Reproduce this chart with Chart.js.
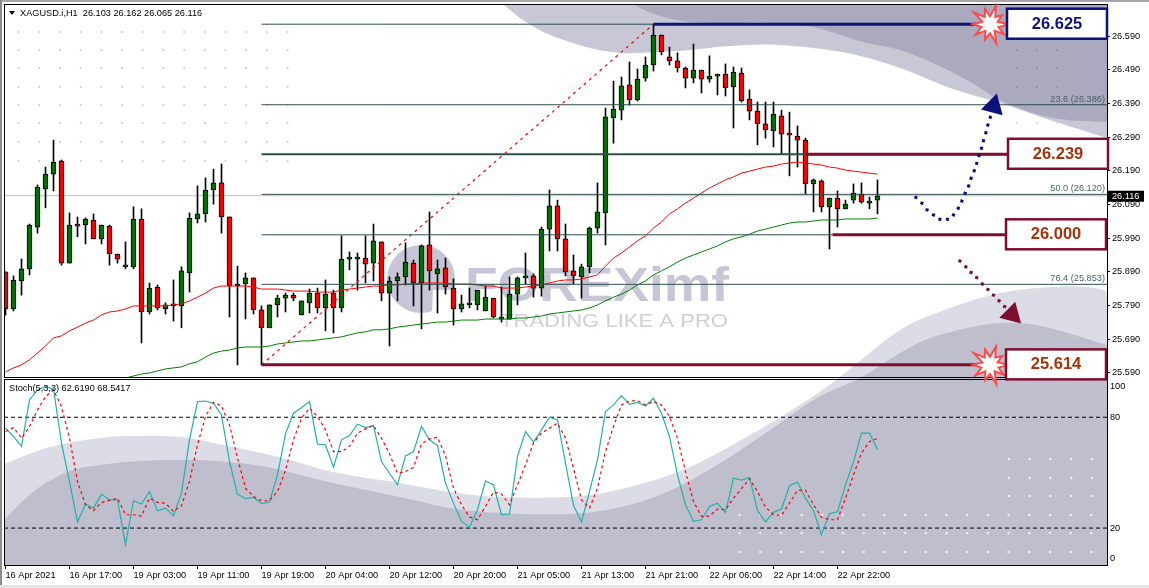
<!DOCTYPE html>
<html>
<head>
<meta charset="utf-8">
<style>
html, body { margin: 0; padding: 0; background: #fff; overflow: hidden; }
#strip { position: absolute; left: 0; top: 0; width: 1149px; height: 2px; background: #a8a8a8; }
#side { position: absolute; left: 0; top: 0; width: 2px; height: 585px; background: #8c8c8c; }
#foot { position: absolute; left: 0; top: 585px; width: 1149px; height: 3px; background: #e4e4e4; }
canvas { position: absolute; left: 0; top: 0; }
</style>
<script src="https://cdn.jsdelivr.net/npm/chart.js@4"></script>
</head>
<body>
<canvas id="chart" width="1149" height="588"></canvas>
<div id="strip"></div><div id="side"></div><div id="foot"></div>
<script>
"use strict";
const timeLabels = ["16 Apr 2021", "16 Apr 17:00", "19 Apr 03:00", "19 Apr 11:00", "19 Apr 19:00", "20 Apr 04:00", "20 Apr 12:00",
    "20 Apr 20:00", "21 Apr 05:00", "21 Apr 13:00", "21 Apr 21:00", "22 Apr 06:00", "22 Apr 14:00", "22 Apr 22:00"];
const timeTickIndex = [0, 8, 16, 24, 32, 40, 48, 56, 64, 72, 80, 88, 96, 104];
const priceTicks = [25.59, 25.69, 25.79, 25.89, 25.99, 26.09, 26.19, 26.29, 26.39, 26.49, 26.59];
const stochTickLabels = ["100", "80", "20", "0"];
const stochTickPos = [96.9, 80, 20, 3.4];

const opens = [25.890, 25.780, 25.863, 25.899, 26.023, 26.136, 26.180, 26.219, 25.916, 26.029,
    26.029, 26.044, 25.988, 26.026, 25.943, 25.905, 25.905, 26.047, 25.771, 25.845,
    25.780, 25.789, 25.789, 25.887, 26.047, 26.062, 26.133, 26.154, 26.053, 25.848,
    25.854, 25.872, 25.777, 25.724, 25.792, 25.812, 25.821, 25.762, 25.798, 25.827,
    25.783, 25.827, 25.783, 25.928, 25.928, 25.931, 25.916, 25.979, 25.827, 25.863,
    25.875, 25.916, 25.857, 25.970, 25.884, 25.902, 25.842, 25.780, 25.792, 25.792,
    25.774, 25.812, 25.750, 25.750, 25.824, 25.872, 25.878, 25.842, 26.017, 26.086,
    25.988, 25.893, 25.875, 25.905, 26.020, 26.065, 26.347, 26.370, 26.445, 26.400,
    26.465, 26.504, 26.593, 26.528, 26.516, 26.495, 26.465, 26.489, 26.462, 26.471,
    26.477, 26.439, 26.480, 26.403, 26.367, 26.329, 26.308, 26.353, 26.299, 26.293,
    26.281, 26.151, 26.160, 26.083, 26.109, 26.077, 26.103, 26.121, 26.094, 26.103];
const highs = [25.890, 25.878, 25.928, 26.032, 26.148, 26.201, 26.281, 26.222, 26.065, 26.053,
    26.050, 26.062, 26.029, 26.029, 25.943, 25.979, 26.083, 26.077, 25.857, 25.851,
    25.798, 25.866, 25.905, 26.065, 26.145, 26.169, 26.195, 26.210, 26.053, 25.907,
    25.887, 25.872, 25.789, 25.792, 25.821, 25.827, 25.827, 25.804, 25.839, 25.842,
    25.866, 25.836, 25.997, 25.949, 25.946, 25.997, 26.032, 25.979, 25.875, 25.887,
    25.976, 25.925, 25.970, 26.068, 25.925, 25.931, 25.869, 25.821, 25.842, 25.836,
    25.848, 25.812, 25.845, 25.875, 25.875, 25.946, 25.884, 26.023, 26.133, 26.103,
    26.032, 25.940, 25.913, 26.023, 26.154, 26.376, 26.456, 26.468, 26.513, 26.492,
    26.528, 26.625, 26.593, 26.557, 26.540, 26.498, 26.566, 26.489, 26.531, 26.477,
    26.507, 26.498, 26.495, 26.430, 26.394, 26.394, 26.394, 26.370, 26.364, 26.323,
    26.287, 26.166, 26.163, 26.109, 26.130, 26.103, 26.151, 26.154, 26.112, 26.163];
const lows = [25.762, 25.774, 25.821, 25.881, 26.005, 26.080, 26.130, 25.910, 25.916, 25.994,
    25.973, 25.988, 25.973, 25.910, 25.916, 25.899, 25.899, 25.679, 25.765, 25.777,
    25.765, 25.744, 25.724, 25.830, 26.035, 26.038, 26.091, 26.005, 25.756, 25.614,
    25.750, 25.765, 25.614, 25.724, 25.756, 25.771, 25.804, 25.762, 25.768, 25.768,
    25.715, 25.709, 25.771, 25.896, 25.836, 25.857, 25.863, 25.804, 25.670, 25.804,
    25.851, 25.789, 25.721, 25.836, 25.768, 25.824, 25.732, 25.771, 25.783, 25.777,
    25.774, 25.753, 25.741, 25.750, 25.792, 25.854, 25.815, 25.818, 25.952, 25.952,
    25.878, 25.854, 25.812, 25.887, 26.005, 25.970, 26.272, 26.341, 26.385, 26.397,
    26.456, 26.486, 26.534, 26.504, 26.483, 26.436, 26.451, 26.421, 26.453, 26.415,
    26.412, 26.317, 26.394, 26.341, 26.267, 26.287, 26.261, 26.240, 26.175, 26.201,
    26.121, 26.068, 26.068, 25.958, 26.023, 26.077, 26.094, 26.094, 26.077, 26.062];
const closes = [25.780, 25.866, 25.899, 26.029, 26.142, 26.180, 26.216, 25.916, 26.029, 26.026,
    26.047, 25.988, 26.029, 25.943, 25.928, 25.907, 26.047, 25.771, 25.842, 25.783,
    25.792, 25.795, 25.893, 26.050, 26.062, 26.133, 26.154, 26.053, 25.848, 25.851,
    25.872, 25.777, 25.724, 25.792, 25.812, 25.821, 25.812, 25.804, 25.827, 25.783,
    25.824, 25.783, 25.928, 25.931, 25.931, 25.913, 25.982, 25.827, 25.863, 25.875,
    25.919, 25.857, 25.967, 25.893, 25.899, 25.845, 25.780, 25.795, 25.795, 25.836,
    25.815, 25.756, 25.756, 25.824, 25.872, 25.875, 25.842, 26.017, 26.086, 25.988,
    25.890, 25.878, 25.905, 26.020, 26.068, 26.350, 26.373, 26.442, 26.400, 26.462,
    26.504, 26.593, 26.543, 26.516, 26.495, 26.465, 26.489, 26.462, 26.471, 26.477,
    26.436, 26.483, 26.397, 26.367, 26.329, 26.311, 26.358, 26.299, 26.296, 26.281,
    26.151, 26.163, 26.083, 26.109, 26.077, 26.091, 26.124, 26.097, 26.100, 26.116];

const maRed = [25.593, 25.605, 25.614, 25.629, 25.649, 25.670, 25.694, 25.700, 25.715, 25.726,
    25.738, 25.747, 25.762, 25.771, 25.774, 25.780, 25.789, 25.789, 25.789, 25.789,
    25.789, 25.792, 25.795, 25.804, 25.815, 25.827, 25.842, 25.848, 25.848, 25.848,
    25.848, 25.845, 25.839, 25.839, 25.839, 25.836, 25.833, 25.833, 25.833, 25.830,
    25.830, 25.830, 25.836, 25.839, 25.842, 25.845, 25.848, 25.848, 25.851, 25.851,
    25.854, 25.854, 25.857, 25.857, 25.857, 25.857, 25.854, 25.854, 25.854, 25.851,
    25.848, 25.848, 25.842, 25.842, 25.842, 25.845, 25.848, 25.851, 25.857, 25.863,
    25.866, 25.866, 25.869, 25.875, 25.881, 25.907, 25.931, 25.946, 25.964, 25.982,
    25.997, 26.020, 26.038, 26.062, 26.077, 26.094, 26.109, 26.124, 26.139, 26.151,
    26.163, 26.172, 26.183, 26.189, 26.195, 26.201, 26.204, 26.210, 26.213, 26.216,
    26.213, 26.210, 26.207, 26.201, 26.198, 26.192, 26.189, 26.186, 26.183, 26.180];
const maGreen = [null, null, null, null, null, null, null, null, null, null,
    null, null, null, null, null, 25.575, 25.581, 25.587, 25.590, 25.596,
    25.602, 25.605, 25.608, 25.617, 25.623, 25.637, 25.649, 25.655, 25.658, 25.664,
    25.667, 25.667, 25.667, 25.670, 25.676, 25.679, 25.682, 25.685, 25.685, 25.688,
    25.691, 25.694, 25.697, 25.703, 25.709, 25.712, 25.718, 25.718, 25.721, 25.726,
    25.729, 25.732, 25.735, 25.738, 25.741, 25.741, 25.744, 25.747, 25.747, 25.747,
    25.750, 25.750, 25.750, 25.750, 25.753, 25.753, 25.756, 25.759, 25.765, 25.768,
    25.771, 25.774, 25.777, 25.783, 25.792, 25.804, 25.815, 25.824, 25.836, 25.851,
    25.863, 25.881, 25.893, 25.905, 25.919, 25.931, 25.940, 25.949, 25.958, 25.967,
    25.979, 25.988, 25.994, 26.002, 26.011, 26.017, 26.023, 26.029, 26.035, 26.038,
    26.038, 26.041, 26.044, 26.044, 26.044, 26.047, 26.047, 26.047, 26.047, 26.050];

const stochK = [74.1, 69.6, 64.2, 89.4, 94.8, 96.6, 95.3, 66.0, 45.2, 23.3,
    33.0, 30.8, 38.4, 35.3, 35.3, 11.0, 34.8, 33.0, 39.8, 29.4,
    30.8, 26.7, 38.9, 67.8, 88.5, 88.8, 87.6, 81.3, 56.0, 38.4,
    35.9, 36.6, 33.3, 34.1, 48.8, 71.0, 82.2, 85.2, 88.5, 65.4,
    65.1, 53.0, 67.8, 70.1, 76.2, 74.4, 75.5, 56.0, 49.7, 43.4,
    59.1, 61.4, 75.0, 67.8, 64.7, 44.3, 33.5, 23.6, 20.5, 29.9,
    45.6, 43.4, 27.2, 27.6, 58.8, 72.3, 66.5, 73.2, 80.0, 78.6,
    55.2, 32.3, 23.3, 39.8, 56.9, 83.1, 86.7, 91.7, 87.0, 88.1,
    86.1, 90.3, 82.2, 69.6, 48.8, 32.6, 23.6, 24.5, 31.7, 33.5,
    28.5, 47.0, 46.0, 47.4, 29.4, 23.4, 28.5, 30.3, 42.9, 44.9,
    36.2, 29.4, 16.4, 27.8, 28.8, 43.4, 55.7, 71.4, 71.4, 62.6];
const stochD = [72.3, 74.4, 68.7, 75.0, 84.0, 91.2, 94.8, 85.8, 68.7, 45.2,
    32.6, 29.4, 33.9, 35.0, 36.2, 27.2, 27.2, 26.5, 36.2, 33.9,
    33.5, 29.0, 32.1, 45.2, 65.1, 80.4, 88.1, 86.1, 75.9, 57.9,
    41.6, 37.1, 34.8, 34.8, 39.8, 51.2, 67.8, 79.5, 84.9, 80.4,
    73.2, 61.4, 61.4, 64.2, 71.4, 73.7, 75.5, 68.7, 60.2, 49.7,
    50.6, 52.8, 65.6, 68.3, 69.2, 59.1, 41.6, 32.6, 26.0, 24.5,
    31.7, 39.5, 38.4, 32.6, 43.4, 54.2, 66.0, 71.4, 74.1, 76.8,
    68.7, 52.4, 35.3, 30.8, 41.6, 61.4, 75.0, 86.7, 88.8, 89.0,
    86.7, 88.5, 86.7, 80.4, 68.7, 50.6, 34.4, 26.3, 26.5, 30.3,
    29.9, 36.2, 41.3, 46.7, 39.8, 31.4, 27.2, 26.9, 33.5, 40.4,
    40.4, 32.6, 25.8, 24.5, 24.5, 36.2, 48.8, 60.6, 66.9, 68.5];
const stochLevels = [80, 20];

// fibonacci levels, candle 32 to the right edge
const fibPrices = [26.625, 26.386, 26.239, 26.120, 26.000, 25.853, 25.614];
const fibLabels = ["23.6 (26.386)", "50.0 (26.120)", "76.4 (25.853)"];
const fibLabelPrices = [26.386, 26.120, 25.853];

// the boxed levels drawn on top
const boxPrices = [26.625, 26.239, 26.000, 25.614];
const boxLabels = ["26.625", "26.239", "26.000", "25.614"];
const boxLineStart = [81, 100, 103.4, 32];
const boxLineEnd = [125, 125.4, 125.2, 125];
const boxColors = ["#0b1378", "#7f0d2e", "#7f0d2e", "#7f0d2e"];
const boxTextColors = ["#12127e", "#a8330b", "#a8330b", "#a8330b"];
const boxLeft = [1007, 1008, 1006, 1006];
const starPrices = [26.625, 25.614];

const fanStart = [32, 25.614];
const fanEnd = [81, 26.625];

const upArrowX = [113.8, 114.55, 115.2, 116.0, 116.8, 117.75, 118.5, 119.1, 119.55, 119.95, 120.4, 120.7, 121.1, 121.4, 121.7, 122.0, 122.25, 122.55, 122.8, 123.1];
const upArrowY = [26.111, 26.094, 26.074, 26.059, 26.046, 26.046, 26.059, 26.079, 26.100, 26.123, 26.145, 26.168, 26.190, 26.212, 26.235, 26.257, 26.279, 26.303, 26.326, 26.349];
const upHead = [123.5, 26.382];
const downArrowX = [119.3, 120.05, 120.7, 121.4, 122.1, 122.8, 123.5, 124.2, 124.9];
const downArrowY = [25.922, 25.905, 25.888, 25.873, 25.854, 25.838, 25.821, 25.804, 25.787];
const downHead = [125.8, 25.764];

const lastPrice = 26.116;
const indexes = opens.map((v, i) => i);
const xMin = -0.1875;
const xMax = 137.69;
const font = '"Liberation Sans", Arial, sans-serif';
const labelSize = 9.2;

function pts(xs, ys) {
    return xs.map((x, i) => ({ x: x, y: ys[i] }));
}
function flat(from, to, y) {
    return [{ x: from, y: y }, { x: to, y: y }];
}
function lineSet(data, color, width, extra) {
    return Object.assign({ type: 'line', data: data, borderColor: color, borderWidth: width, pointRadius: 0, fill: false, tension: 0, yAxisID: 'y', spanGaps: false }, extra || {});
}
function dotSet(xs, ys, color) {
    return { type: 'line', data: pts(xs, ys), showLine: false, pointStyle: 'rect', pointRadius: 2.2, pointRotation: 20, pointBackgroundColor: color, pointBorderWidth: 0, yAxisID: 'y', order: 1 };
}
function headSet(p, color, rotation) {
    return { type: 'line', data: [{ x: p[0], y: p[1] }], showLine: false, pointStyle: 'triangle', pointRadius: 13, pointRotation: rotation, pointBackgroundColor: color, pointBorderWidth: 0, yAxisID: 'y', order: 1 };
}

// smooth closed shape through page points, used for the watermark
function curve(ctx, p) {
    ctx.moveTo(p[0][0], p[0][1]);
    for (let i = 0; i < p.length - 1; i++) {
        const a = p[Math.max(i - 1, 0)], b = p[i], c = p[i + 1], d = p[Math.min(i + 2, p.length - 1)];
        ctx.bezierCurveTo(b[0] + (c[0] - a[0]) / 6, b[1] + (c[1] - a[1]) / 6, c[0] - (d[0] - b[0]) / 6, c[1] - (d[1] - b[1]) / 6, c[0], c[1]);
    }
}
function shape(ctx, p, tail, color) {
    ctx.beginPath();
    curve(ctx, p);
    tail.forEach(t => ctx.lineTo(t[0], t[1]));
    ctx.closePath();
    ctx.fillStyle = color;
    ctx.fill();
}

const topLight = [[503, 4], [523, 20], [550, 35], [590, 48], [623, 53], [657, 52], [690, 50], [730, 46], [780, 45], [847, 53], [900, 68], [950, 88], [1000, 103], [1050, 120], [1107, 138]];
const topDark = [[632, 4], [657, 15], [690, 22], [730, 23], [767, 23], [813, 27], [863, 42], [900, 50], [933, 63], [967, 80], [1000, 100], [1033, 113], [1067, 120], [1107, 122]];
const lowLight = [[4, 464], [50, 447], [100, 438], [133, 436], [180, 437], [233, 447], [283, 458], [333, 472], [400, 483], [450, 492], [500, 497], [567, 497], [617, 490], [683, 470], [750, 435], [800, 405], [840, 377], [900, 330], [950, 308], [1000, 293], [1050, 287], [1087, 287], [1107, 291]];
const lowDark = [[4, 520], [33, 492], [67, 472], [100, 465], [140, 461], [183, 460], [217, 461], [267, 467], [333, 483], [400, 497], [450, 508], [500, 513], [567, 514], [617, 508], [667, 492], [717, 465], [767, 432], [817, 398], [860, 378], [900, 353], [933, 337], [983, 325], [1017, 323], [1050, 328], [1107, 345]];

function dots(ctx, xs, ys, color, r) {
    ctx.fillStyle = color;
    xs.forEach(x => ys.forEach(y => {
        ctx.beginPath();
        ctx.arc(x, y, r, 0, Math.PI * 2);
        ctx.fill();
    }));
}
function steps(from, count, gap) {
    return Array.from({ length: count }, (v, i) => from + i * gap);
}
// text stretched to a known width
function stretched(ctx, text, x, y, width) {
    ctx.save();
    ctx.translate(x, y);
    ctx.scale(width / ctx.measureText(text).width, 1);
    ctx.fillText(text, 0, 0);
    ctx.restore();
}

const watermark = {
    id: 'watermark',
    beforeDatasetsDraw(chart) {
        const ctx = chart.ctx, a = chart.chartArea;
        ctx.save();
        ctx.beginPath();
        ctx.rect(a.left, a.top, a.right - a.left, a.bottom - a.top);
        ctx.clip();
        shape(ctx, topLight, [[1107, 4]], '#c8c7d6');
        shape(ctx, topDark, [[1107, 4]], '#aaa9bd');
        shape(ctx, lowLight, [[1107, 565], [4, 565]], '#dcdce6');
        shape(ctx, lowDark, [[1107, 565], [4, 565]], '#bfbecd');

        dots(ctx, steps(18.5, 14, 20.7), [32, 50, 68, 87, 105, 123, 142, 161], '#c9c9d8', 1);
        dots(ctx, steps(1016.7, 3, 20.2), [50, 68, 87], '#8f8ea3', 1);
        dots(ctx, steps(1016.7, 3, 20.2), [123], '#d6d6e0', 1);
        dots(ctx, steps(739.5, 18, 20.7), [515, 533, 552], '#eeeef3', 1.2);
        dots(ctx, steps(1009, 5, 20.7), [459, 478, 496], '#eeeef3', 1.2);

        // logo
        ctx.fillStyle = '#c6c6d6';
        ctx.beginPath();
        ctx.arc(421, 279, 34, 0, Math.PI * 2);
        ctx.fill();
        ctx.fillStyle = '#ffffff';
        ctx.beginPath();
        ctx.moveTo(433, 290);
        ctx.lineTo(457, 290);
        ctx.lineTo(450, 307);
        ctx.lineTo(432, 313);
        ctx.fill();
        ctx.fillStyle = '#c6c6d6';
        ctx.textAlign = 'left';
        ctx.textBaseline = 'alphabetic';
        ctx.font = 'bold 49px ' + font;
        stretched(ctx, 'FOREXimf', 465, 301, 264);
        ctx.fillStyle = '#cfcfdc';
        ctx.font = '18px ' + font;
        stretched(ctx, 'TRADING LIKE A PRO', 500, 327, 228);
        ctx.restore();
    },
    afterDatasetsDraw(chart) {
        const ctx = chart.ctx, y = chart.scales.y;
        ctx.save();
        // fibonacci captions
        ctx.font = labelSize + 'px ' + font;
        ctx.textAlign = 'right';
        ctx.textBaseline = 'bottom';
        ctx.fillStyle = '#4b6068';
        fibLabels.forEach((t, i) => ctx.fillText(t, 1105, y.getPixelForValue(fibLabelPrices[i]) - 1));

        // panel captions
        ctx.textAlign = 'left';
        ctx.textBaseline = 'middle';
        ctx.fillStyle = '#000';
        ctx.font = labelSize + 'px ' + font;
        ctx.fillText('XAGUSD.i,H1  26.103 26.162 26.065 26.116', 20, 13);
        ctx.fillText('Stoch(5,3,3) 62.6190 68.5417', 9, 388);
        ctx.beginPath();
        ctx.moveTo(9, 11); ctx.lineTo(15, 11); ctx.lineTo(12, 15);
        ctx.fill();
        ctx.restore();
    },
    afterDraw(chart) {
        const ctx = chart.ctx, a = chart.chartArea, y = chart.scales.y;
        ctx.save();
        // frames
        ctx.strokeStyle = '#000';
        ctx.lineWidth = 1;
        ctx.strokeRect(a.left + 0.5, a.top + 0.5, a.right - a.left, y.bottom - a.top);
        ctx.strokeRect(a.left + 0.5, y.bottom + 2.5, a.right - a.left, a.bottom - y.bottom - 2);

        // last price tag
        const py = y.getPixelForValue(lastPrice);
        ctx.fillStyle = '#000';
        ctx.fillRect(1108, py - 5, 36, 11);
        ctx.fillStyle = '#fff';
        ctx.font = labelSize + 'px ' + font;
        ctx.textAlign = 'left';
        ctx.textBaseline = 'middle';
        ctx.fillText(lastPrice.toFixed(3), 1112, py + 0.5);

        // bursts
        starPrices.forEach(p => star(ctx, 990, y.getPixelForValue(p)));

        // level boxes
        boxPrices.forEach((p, i) => {
            const c = y.getPixelForValue(p);
            ctx.fillStyle = '#fff';
            ctx.fillRect(boxLeft[i], c - 15.5, 100, 30);
            ctx.strokeStyle = boxColors[i];
            ctx.lineWidth = 2.5;
            ctx.strokeRect(boxLeft[i], c - 15.5, 100, 30);
            ctx.fillStyle = boxTextColors[i];
            ctx.font = 'bold 16.5px ' + font;
            ctx.textAlign = 'center';
            ctx.fillText(boxLabels[i], boxLeft[i] + 50, c);
        });
        ctx.restore();
    }
};

function star(ctx, cx, cy) {
    const radii = [19, 9, 17, 8, 20, 9, 16, 8, 18, 9, 17, 8, 20, 9, 16, 8, 19, 9, 15, 8];
    ctx.beginPath();
    radii.forEach((r, i) => {
        const t = i / radii.length * Math.PI * 2;
        ctx.lineTo(cx + Math.cos(t) * r, cy + Math.sin(t) * r);
    });
    ctx.closePath();
    ctx.fillStyle = '#fff';
    ctx.fill();
    ctx.strokeStyle = '#ff4a4a';
    ctx.lineWidth = 2;
    ctx.stroke();
}

function noPadding(s) {
    s.paddingLeft = 0;
    s.paddingRight = 0;
    s.paddingTop = 0;
    s.paddingBottom = 0;
}

const candleDatasets = [{
    type: 'bar',
    data: indexes.map(i => ({ x: i, y: [lows[i], highs[i]] })),
    backgroundColor: '#000',
    barThickness: 1,
    grouped: false,
    yAxisID: 'y',
    order: 9
}, {
    type: 'bar',
    data: indexes.map(i => ({ x: i, y: [opens[i], closes[i]] })),
    backgroundColor: indexes.map(i => closes[i] >= opens[i] ? '#007000' : '#fa0000'),
    borderColor: '#000',
    borderWidth: 1,
    borderSkipped: false,
    barThickness: 5,
    minBarLength: 2,
    grouped: false,
    yAxisID: 'y',
    order: 8
}];

const datasets = candleDatasets.concat([
    lineSet(flat(xMin, xMax, lastPrice), '#c0c0c0', 1, { order: 10 }),
    lineSet(indexes.map(i => ({ x: i, y: maRed[i] })), '#ff0000', 1, { order: 6 }),
    lineSet(indexes.map(i => ({ x: i, y: maGreen[i] })), '#007f00', 1, { order: 6 }),
    lineSet([{ x: fanStart[0], y: fanStart[1] }, { x: fanEnd[0], y: fanEnd[1] }], '#ff0000', 1.2, { borderDash: [3, 4], order: 5 })
], fibPrices.map((p, i) => lineSet(flat(32, xMax, p), '#2f4f4f', i === 2 ? 2 : 1, { order: 4 })),
    boxPrices.map((p, i) => lineSet(flat(boxLineStart[i], boxLineEnd[i], p), boxColors[i], 3, { order: 3 })),
    [
        dotSet(upArrowX, upArrowY, '#0b1378'),
        headSet(upHead, '#0b1378', 15),
        dotSet(downArrowX, downArrowY, '#7f0d2e'),
        headSet(downHead, '#7f0d2e', 135)
    ],
    stochLevels.map(v => lineSet(flat(xMin, xMax, v), '#000', 1, { yAxisID: 'stoch', borderDash: [4, 3], order: 7 })),
    [
        lineSet(indexes.map(i => ({ x: i, y: stochK[i] })), '#20b2aa', 1.2, { yAxisID: 'stoch', order: 6 }),
        lineSet(indexes.map(i => ({ x: i, y: stochD[i] })), '#ff0000', 1.2, { yAxisID: 'stoch', borderDash: [3, 3], order: 5 })
    ]);

new Chart(document.getElementById('chart').getContext('2d'), {
    data: { datasets: datasets },
    options: {
        responsive: false,
        animation: false,
        devicePixelRatio: 1,
        events: [],
        layout: { autoPadding: false, padding: { left: 4, top: 4, right: 0, bottom: 1 } },
        plugins: { legend: { display: false }, tooltip: { enabled: false } },
        scales: {
            x: {
                type: 'linear',
                offset: false,
                min: xMin,
                max: xMax,
                border: { color: '#000' },
                grid: { offset: false, drawOnChartArea: false, drawTicks: true, tickLength: 4, color: '#000' },
                afterBuildTicks: s => { s.ticks = timeTickIndex.map(v => ({ value: v })); },
                afterFit: s => { s.height = 22; noPadding(s); },
                ticks: {
                    autoSkip: false,
                    maxRotation: 0,
                    align: 'start',
                    padding: 1,
                    color: '#000',
                    font: { family: font, size: labelSize },
                    callback: (v, i) => timeLabels[i]
                }
            },
            y: {
                position: 'right',
                stack: 'panels',
                stackWeight: 373,
                min: 25.578,
                max: 26.685,
                border: { color: '#000' },
                grid: { drawOnChartArea: false, drawTicks: true, tickLength: 3, color: '#000' },
                afterBuildTicks: s => { s.ticks = priceTicks.map(v => ({ value: v })); },
                afterFit: s => { s.width = 42; noPadding(s); },
                ticks: {
                    padding: 2,
                    color: '#000',
                    font: { family: font, size: labelSize },
                    callback: v => v.toFixed(3)
                }
            },
            stoch: {
                position: 'right',
                stack: 'panels',
                stackWeight: 188,
                min: 0,
                max: 101.8,
                border: { color: '#000' },
                grid: { drawOnChartArea: false, drawTicks: false },
                afterBuildTicks: s => { s.ticks = stochTickPos.map(v => ({ value: v })); },
                afterFit: s => { s.width = 42; noPadding(s); },
                ticks: {
                    padding: 3,
                    color: '#000',
                    font: { family: font, size: labelSize },
                    callback: (v, i) => stochTickLabels[i]
                }
            }
        }
    },
    plugins: [watermark]
});
</script>
</body>
</html>
